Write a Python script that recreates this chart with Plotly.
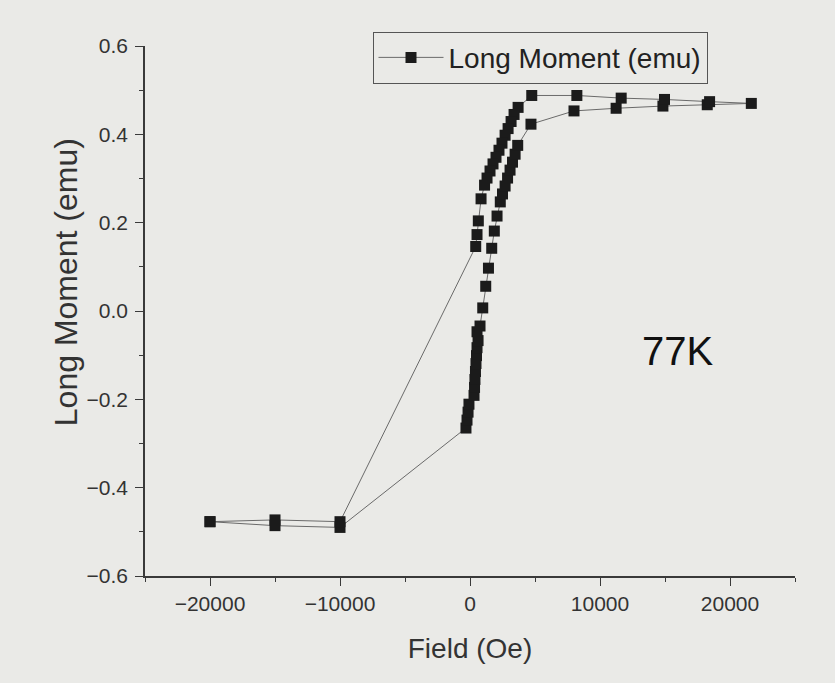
import plotly.graph_objects as go

# Field (Oe) and Long Moment (emu), in measurement order around the loop
field_oe = [
    -20000, -15000, -10000,
    -310, -230, -150, -80, 310, 350, 380, 420, 460, 500, 540, 620, 540, 770,
    980, 1210, 1420, 1670, 1870, 2080, 2330, 2500, 2700, 2890, 3080, 3270, 3470, 3670, 4690,
    8000, 11240, 14840, 18250, 21640,
    18430, 14960, 11630, 8220, 4750,
    3700, 3390, 3160, 2930, 2700, 2460, 2230, 2000, 1770, 1540, 1310, 1120, 850, 640, 540, 440,
    -10000, -15000, -20000,
]
moment_emu = [
    -0.477, -0.486, -0.490,
    -0.265, -0.247, -0.229, -0.211, -0.191, -0.173, -0.155, -0.137, -0.119, -0.101, -0.083, -0.067, -0.047, -0.034,
    0.007, 0.056, 0.097, 0.142, 0.181, 0.215, 0.247, 0.265, 0.283, 0.301, 0.319, 0.337, 0.355, 0.375, 0.423,
    0.453, 0.459, 0.464, 0.467, 0.470,
    0.474, 0.479, 0.482, 0.488, 0.488,
    0.461, 0.445, 0.429, 0.413, 0.398, 0.380, 0.364, 0.348, 0.333, 0.317, 0.301, 0.285, 0.254, 0.204, 0.173, 0.146,
    -0.477, -0.473, -0.477,
]

series_name = "Long Moment (emu)"
x_title = "Field (Oe)"
y_title = "Long Moment (emu)"
label_text = "77K"

bg = "#eaeae7"
axis_col = "#3a3a3a"
txt_col = "#333333"
font_fam = "Liberation Sans, Arial, sans-serif"

fig = go.Figure()
fig.add_trace(go.Scatter(
    x=field_oe, y=moment_emu, mode="lines+markers", name=series_name,
    line=dict(color="#6a6a6a", width=1),
    marker=dict(symbol="square", size=11, color="#1b1b1b", line=dict(width=0)),
    showlegend=True,
))

fig.add_annotation(
    x=0.877, y=0.424, xref="paper", yref="paper", text=label_text, showarrow=False,
    font=dict(family=font_fam, size=40, color="#111111"),
)

# y-axis title placed as rotated text
fig.add_annotation(
    x=-0.121, y=0.555, xref="paper", yref="paper", text=y_title, showarrow=False,
    textangle=-90, xanchor="center", yanchor="middle",
    font=dict(family=font_fam, size=32, color=txt_col),
)

fig.update_layout(
    width=835, height=683,
    margin=dict(l=145, r=40, t=46, b=107),
    paper_bgcolor=bg, plot_bgcolor=bg,
    font=dict(family=font_fam, size=21, color=txt_col),
    showlegend=True,
    legend=dict(
        x=0.35, y=1.027, xanchor="left", yanchor="top",
        bgcolor=bg, bordercolor="#555555", borderwidth=1,
        font=dict(size=28, color="#222222"),
        itemwidth=65, tracegroupgap=0,
    ),
    xaxis=dict(
        range=[-25000, 25000], showgrid=False, zeroline=False,
        showline=True, linecolor=axis_col, linewidth=1.5,
        ticks="outside", tickcolor=axis_col, ticklen=8, tickwidth=1.2,
        dtick=10000, tick0=0, tickformat="d",
        minor=dict(ticks="outside", dtick=5000, ticklen=4, tickcolor=axis_col, tickwidth=1),
        title=dict(text=x_title, font=dict(size=28, color=txt_col), standoff=24),
        tickfont=dict(size=21, color=txt_col),
    ),
    yaxis=dict(
        range=[-0.6, 0.6], showgrid=False, zeroline=False,
        showline=True, linecolor=axis_col, linewidth=1.5,
        ticks="outside", tickcolor=axis_col, ticklen=8, tickwidth=1.2,
        dtick=0.2, tick0=0, tickformat=".1f", ticklabelstandoff=3,
        minor=dict(ticks="outside", dtick=0.1, ticklen=4, tickcolor=axis_col, tickwidth=1),
        tickfont=dict(size=21, color=txt_col),
    ),
)

fig.write_html("out.html")
